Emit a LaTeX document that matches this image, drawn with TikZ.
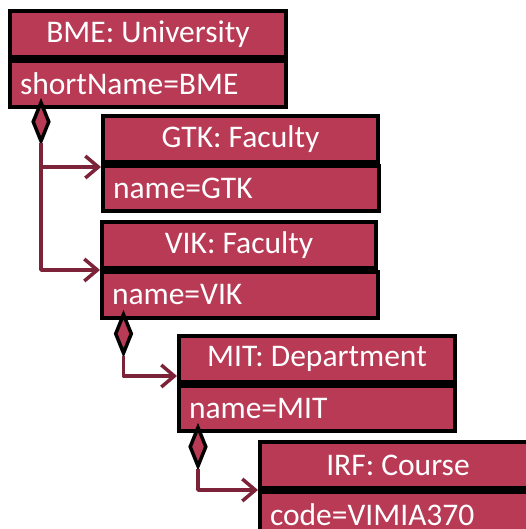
\documentclass[tikz,border=0pt]{standalone}
\usepackage{fontspec}
\setmainfont{Carlito}
\usetikzlibrary{arrows.meta,shapes.geometric,calc}
\definecolor{boxfill}{HTML}{B93A55}
\definecolor{conncol}{HTML}{7D2339}
\tikzset{
  hdr/.style={draw=black, line width=4pt, fill=boxfill, text=white, anchor=north west,
    minimum width=276pt, minimum height=46pt, inner sep=0pt, font=\fontsize{31.5}{34}\selectfont},
  attr/.style={draw=black, line width=4pt, fill=boxfill, text=white, anchor=north west,
    minimum width=276pt, minimum height=46pt, inner xsep=10pt, inner ysep=0pt,
    text width=256pt, align=left, font=\fontsize{31.5}{34}\selectfont},
  diam/.style={diamond, draw=black, line width=3.5pt, fill=boxfill, minimum width=17pt,
    minimum height=40pt, inner sep=0pt},
  conn/.style={draw=conncol, line width=3.5pt, line join=round,
    -{Straight Barb[length=13pt,width=22pt,line width=3.5pt]}},
  connplain/.style={draw=conncol, line width=3.5pt}
}
\begin{document}
\begin{tikzpicture}[x=1pt,y=-1pt]
\useasboundingbox (0,0) rectangle (526,529);
\clip (0,0) rectangle (526,529);
% boxes
\node[hdr] (bmeH) at (8,9) {BME: University};
\node[attr] (bmeA) at (bmeH.south west) {shortName=BME};
\node[hdr, minimum width=275pt] (gtkH) at (101,114) {GTK: Faculty};
\node[attr, minimum width=275pt, minimum height=45pt] (gtkA) at (gtkH.south west) {name=GTK};
\node[hdr, minimum width=274pt] (vikH) at (100,220) {VIK: Faculty};
\node[attr, minimum width=274pt] (vikA) at (vikH.south west) {name=VIK};
\node[hdr] (mitH) at (177,334) {MIT: Department};
\node[attr, minimum height=45pt] (mitA) at (mitH.south west) {name=MIT};
\node[hdr] (irfH) at (258,440) {IRF: Course};
\node[attr] (irfA) at (irfH.south west) {code=VIMIA370};
% diamonds
\node[diam, anchor=north] (d1) at (41,100) {};
\node[diam, anchor=north] (d2) at (123.5,312) {};
\node[diam, anchor=north] (d3) at (198,425) {};
% connectors
\coordinate (gtkIn) at ([yshift=-3pt]gtkH.south west);
\coordinate (g1) at (d1.south |- gtkIn);
\draw[connplain] (d1.south) -- (g1);
\draw[conn] (g1) -- (gtkIn);
\draw[conn] (g1) |- (vikH.south west);
\draw[conn] (d2.south) |- ([yshift=8pt]mitH.south west);
\draw[conn] (d3.south) |- (irfH.south west);
\end{tikzpicture}
\end{document}
